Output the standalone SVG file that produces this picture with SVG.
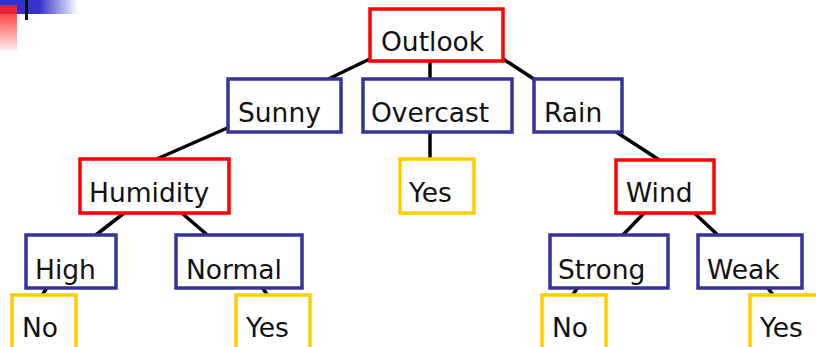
<svg xmlns="http://www.w3.org/2000/svg" width="816" height="347" viewBox="0 0 816 347">
<defs>
<linearGradient id="blueFade" x1="0" y1="0" x2="1" y2="0">
<stop offset="0" stop-color="#3333CC"/>
<stop offset="0.5" stop-color="#3333CC"/>
<stop offset="1" stop-color="#3333CC" stop-opacity="0"/>
</linearGradient>
<linearGradient id="redFade" x1="0" y1="0" x2="0" y2="1">
<stop offset="0" stop-color="#FF2020"/>
<stop offset="1" stop-color="#FF2020" stop-opacity="0.1"/>
</linearGradient>
</defs>
<style>
.box{fill:#fff;stroke-width:3.5}
.attr{stroke:#FF0000}
.val{stroke:#333399}
.leaf{stroke:#FFCC00}
.lbl{font-family:"DejaVu Sans",Verdana,sans-serif;font-size:26.5px;fill:#111}
.edge{stroke:#000;stroke-width:3.5;fill:none}
</style>
<rect width="816" height="347" fill="#fff"/>
<g id="decoration">
<rect x="0" y="0" width="78" height="14" fill="url(#blueFade)"/>
<rect x="0" y="5" width="17" height="45" fill="url(#redFade)"/>
<rect x="25" y="0" width="3" height="20" fill="#111"/>
</g>
<g id="connectors">
<line class="edge" x1="378" y1="55" x2="320" y2="83"/>
<line class="edge" x1="430" y1="55" x2="430" y2="85"/>
<line class="edge" x1="500" y1="57" x2="540" y2="83"/>
<line class="edge" x1="234" y1="125" x2="150" y2="162"/>
<line class="edge" x1="430" y1="125" x2="430" y2="165"/>
<line class="edge" x1="610" y1="128" x2="664" y2="163"/>
<line class="edge" x1="128" y1="210" x2="92" y2="238"/>
<line class="edge" x1="176" y1="208" x2="212" y2="239"/>
<line class="edge" x1="648" y1="209" x2="619" y2="239"/>
<line class="edge" x1="690" y1="209" x2="722" y2="239"/>
<line class="edge" x1="49" y1="284" x2="40" y2="299"/>
<line class="edge" x1="260" y1="284" x2="270" y2="299"/>
<line class="edge" x1="580" y1="284" x2="570" y2="299"/>
<line class="edge" x1="765" y1="284" x2="776" y2="299"/>
</g>
<g id="outlook"><rect class="box attr" x="370" y="9" width="133" height="52"/><text class="lbl" x="381" y="51">Outlook</text></g>
<g id="sunny"><rect class="box val" x="228" y="79" width="113" height="53"/><text class="lbl" x="238" y="122">Sunny</text></g>
<g id="overcast"><rect class="box val" x="363" y="79" width="149" height="53"/><text class="lbl" x="371" y="122">Overcast</text></g>
<g id="rain"><rect class="box val" x="534" y="79" width="88" height="53"/><text class="lbl" x="544" y="122">Rain</text></g>
<g id="humidity"><rect class="box attr" x="80" y="159" width="149" height="54"/><text class="lbl" x="89" y="202">Humidity</text></g>
<g id="yes-overcast"><rect class="box leaf" x="400" y="159" width="74" height="54"/><text class="lbl" x="409" y="202">Yes</text></g>
<g id="wind"><rect class="box attr" x="616" y="160" width="98" height="53"/><text class="lbl" x="626" y="202">Wind</text></g>
<g id="high"><rect class="box val" x="26" y="235" width="90" height="53"/><text class="lbl" x="35" y="279">High</text></g>
<g id="normal"><rect class="box val" x="176" y="235" width="126" height="53"/><text class="lbl" x="186" y="279">Normal</text></g>
<g id="strong"><rect class="box val" x="550" y="235" width="118" height="53"/><text class="lbl" x="558" y="279">Strong</text></g>
<g id="weak"><rect class="box val" x="698" y="235" width="104" height="53"/><text class="lbl" x="707" y="279">Weak</text></g>
<g id="no-high"><rect class="box leaf" x="12" y="295" width="64" height="60"/><text class="lbl" x="22" y="337">No</text></g>
<g id="yes-normal"><rect class="box leaf" x="236" y="295" width="74" height="60"/><text class="lbl" x="246" y="337">Yes</text></g>
<g id="no-strong"><rect class="box leaf" x="542" y="295" width="64" height="60"/><text class="lbl" x="552" y="337">No</text></g>
<g id="yes-weak"><rect class="box leaf" x="750" y="295" width="80" height="60"/><text class="lbl" x="760" y="337">Yes</text></g>
</svg>
